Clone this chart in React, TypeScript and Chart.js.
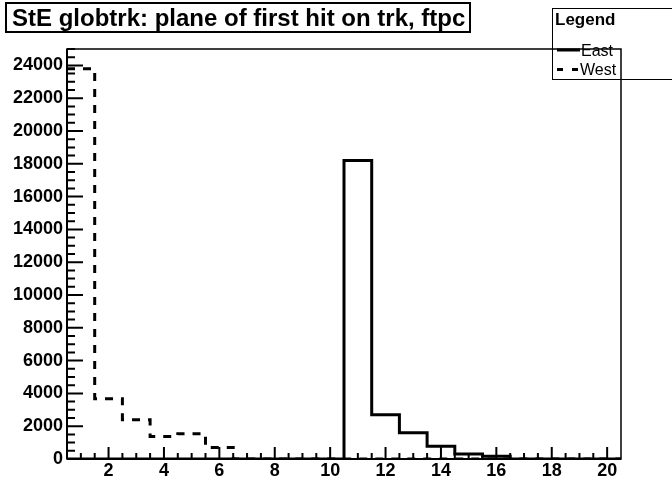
import React, { useEffect, useRef } from "react";
import { Chart, registerables } from "chart.js";

Chart.register(...registerables);

const TITLE = "StE globtrk: plane of first hit on trk, ftpc";
const LEGEND_TITLE = "Legend";
const seriesNames = ["East", "West"];
const binCenters = [1, 2, 3, 4, 5, 6, 7, 8, 9, 10, 11, 12, 13, 14, 15, 16, 17, 18, 19, 20];
const eastCounts = [0, 0, 0, 0, 0, 0, 0, 0, 0, 0, 18200, 2700, 1600, 780, 300, 170, 0, 0, 0, 0];
const westCounts = [23800, 3680, 2400, 1375, 1540, 700, 0, 0, 0, 0, 0, 0, 0, 0, 0, 0, 0, 0, 0, 0];
const xTickLabels = [2, 4, 6, 8, 10, 12, 14, 16, 18, 20];
const yTickLabels = [0, 2000, 4000, 6000, 8000, 10000, 12000, 14000, 16000, 18000, 20000, 22000, 24000];
const X_MIN = 0.5;
const X_MAX = 20.5;
const Y_MAX = 25000;
const X_MINOR_STEP = 0.5;
const Y_MINOR_STEP = 500;

const FONT = "'Liberation Sans', Arial, Helvetica, sans-serif";

function stepPoints(counts: number[]) {
  const pts = binCenters.map((c, i) => ({ x: c - 0.5, y: counts[i] }));
  const last = binCenters.length - 1;
  pts.push({ x: binCenters[last] + 0.5, y: counts[last] });
  return pts;
}

const framePlugin = {
  id: "rootFrame",
  afterDatasetsDraw(chart: any) {
    const { ctx, chartArea: a, scales } = chart;
    const xs = scales.x;
    const ys = scales.y;
    ctx.save();
    ctx.strokeStyle = "#000";
    ctx.lineWidth = 1.5;
    ctx.strokeRect(a.left, a.top, a.right - a.left, a.bottom - a.top);
    ctx.lineWidth = 2;
    ctx.beginPath();
    ctx.moveTo(a.left, a.top);
    ctx.lineTo(a.left, a.bottom);
    ctx.moveTo(a.left, a.bottom);
    ctx.lineTo(a.right, a.bottom);
    ctx.stroke();
    ctx.beginPath();
    for (let v = 0; v <= Y_MAX; v += Y_MINOR_STEP) {
      const major = yTickLabels.includes(v);
      const len = major ? 16 : 8;
      const py = ys.getPixelForValue(v);
      ctx.moveTo(a.left, py);
      ctx.lineTo(a.left + len, py);
    }
    for (let v = X_MIN + X_MINOR_STEP; v < X_MAX; v += X_MINOR_STEP) {
      const major = xTickLabels.includes(v);
      const len = major ? 12 : 6;
      const px = xs.getPixelForValue(v);
      ctx.moveTo(px, a.bottom);
      ctx.lineTo(px, a.bottom - len);
    }
    ctx.stroke();
    ctx.restore();
  },
};

export default function App() {
  const canvasRef = useRef<HTMLCanvasElement | null>(null);

  useEffect(() => {
    document.body.style.margin = "0";
    const canvas = canvasRef.current;
    if (!canvas) return;
    const chart = new Chart(canvas, {
      type: "line",
      data: {
        datasets: [
          {
            label: seriesNames[0],
            data: stepPoints(eastCounts),
            stepped: "before",
            borderColor: "#000",
            borderWidth: 3,
            pointRadius: 0,
            fill: false,
          },
          {
            label: seriesNames[1],
            data: stepPoints(westCounts),
            stepped: "before",
            borderColor: "#000",
            borderWidth: 3,
            borderDash: [8, 8],
            pointRadius: 0,
            fill: false,
          },
        ],
      },
      options: {
        animation: false,
        responsive: false,
        devicePixelRatio: 1,
        layout: { padding: { left: 0, right: 51, top: 49, bottom: 0 } },
        plugins: { legend: { display: false }, title: { display: false }, tooltip: { enabled: false } },
        scales: {
          x: {
            type: "linear",
            min: X_MIN,
            max: X_MAX,
            grid: { display: false, drawTicks: false },
            border: { display: false },
            afterBuildTicks: (s: any) => {
              s.ticks = xTickLabels.map((v) => ({ value: v }));
            },
            afterFit: (s: any) => {
              s.height = 23;
            },
            ticks: {
              padding: 1,
              color: "#000",
              font: { family: FONT, size: 18, weight: "bold" },
              maxRotation: 0,
              autoSkip: false,
              callback: (v: any) => String(v),
            },
          },
          y: {
            type: "linear",
            min: 0,
            max: Y_MAX,
            grid: { display: false, drawTicks: false },
            border: { display: false },
            afterBuildTicks: (s: any) => {
              s.ticks = yTickLabels.map((v) => ({ value: v }));
            },
            afterFit: (s: any) => {
              s.width = 67;
            },
            ticks: {
              padding: 4,
              color: "#000",
              font: { family: FONT, size: 18, weight: "bold" },
              autoSkip: false,
              callback: (v: any) => String(v),
            },
          },
        },
      },
      plugins: [framePlugin],
    });
    return () => chart.destroy();
  }, []);

  return (
    <div
      style={{
        position: "fixed",
        left: 0,
        top: 0,
        width: 672,
        height: 482,
        overflow: "hidden",
        background: "#fff",
        fontFamily: FONT,
      }}
    >
      <canvas ref={canvasRef} width={672} height={482} style={{ position: "absolute", left: 0, top: 0 }} />
      <div
        style={{
          position: "absolute",
          left: 5,
          top: 2,
          width: 466,
          height: 31,
          boxSizing: "border-box",
          border: "2px solid #000",
          fontWeight: "bold",
          fontSize: 24,
          lineHeight: "27px",
          paddingLeft: 5,
          whiteSpace: "nowrap",
          color: "#000",
        }}
      >
        {TITLE}
      </div>
      <div
        style={{
          position: "absolute",
          left: 552,
          top: 8,
          width: 140,
          height: 72,
          boxSizing: "border-box",
          border: "1.5px solid #000",
          color: "#000",
        }}
      >
        <div style={{ position: "absolute", left: 2, top: 2, fontWeight: "bold", fontSize: 17, lineHeight: "18px" }}>
          {LEGEND_TITLE}
        </div>
        <svg width={30} height={40} style={{ position: "absolute", left: 2, top: 30 }}>
          <line x1={2} y1={11} x2={25} y2={11} stroke="#000" strokeWidth={3} />
          <line x1={2} y1={30.5} x2={25} y2={30.5} stroke="#000" strokeWidth={3} strokeDasharray="6 9" />
        </svg>
        <div style={{ position: "absolute", left: 28, top: 33, fontSize: 16, lineHeight: "18px" }}>{seriesNames[0]}</div>
        <div style={{ position: "absolute", left: 27, top: 52, fontSize: 16, lineHeight: "18px" }}>{seriesNames[1]}</div>
      </div>
    </div>
  );
}
